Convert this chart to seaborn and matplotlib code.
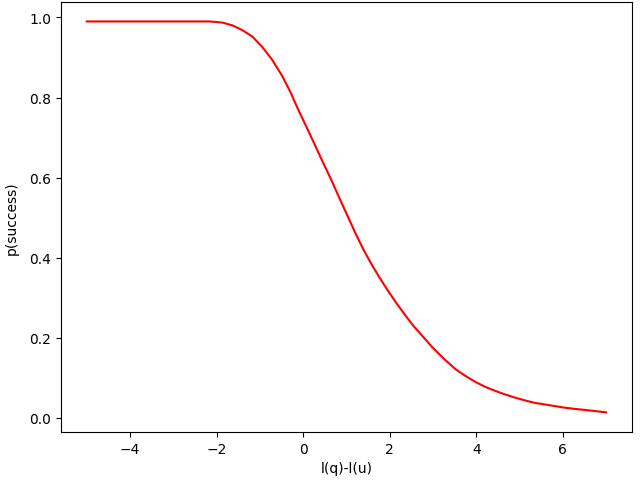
import matplotlib
matplotlib.use("Agg")
import matplotlib.pyplot as plt
import seaborn as sns
import pandas as pd

x_vals = [-5.0, -4.0, -3.0, -2.6, -2.16, -1.86, -1.63, -1.40, -1.17, -0.95, -0.72, -0.49,
          -0.30, -0.11, 0.08, 0.27, 0.45, 0.64, 0.83, 1.02, 1.21, 1.40, 1.59, 1.78,
          1.97, 2.16, 2.35, 2.54, 2.77, 2.99, 3.25, 3.52, 3.75, 3.98, 4.20, 4.43,
          4.66, 4.89, 5.12, 5.34, 5.57, 5.80, 6.02, 6.25, 6.60, 7.0]
y_vals = [0.99, 0.99, 0.99, 0.99, 0.99, 0.987, 0.980, 0.968, 0.952, 0.927, 0.895, 0.855,
          0.815, 0.769, 0.726, 0.682, 0.640, 0.597, 0.551, 0.506, 0.461, 0.419, 0.382, 0.348,
          0.316, 0.286, 0.258, 0.231, 0.203, 0.176, 0.148, 0.122, 0.105, 0.090, 0.078, 0.068,
          0.059, 0.051, 0.044, 0.038, 0.034, 0.030, 0.026, 0.023, 0.019, 0.014]

df = pd.DataFrame({"x": x_vals, "y": y_vals})

fig, ax = plt.subplots(figsize=(6.4, 4.81), dpi=100)
sns.lineplot(data=df, x="x", y="y", color="red", ax=ax, linewidth=1.5)
ax.set_xlabel("l(q)-l(u)")
ax.set_ylabel("p(success)", labelpad=7.5)
fig.subplots_adjust(left=0.095, right=0.9875, top=0.994, bottom=0.1)
fig.savefig("out.png", dpi=100)
